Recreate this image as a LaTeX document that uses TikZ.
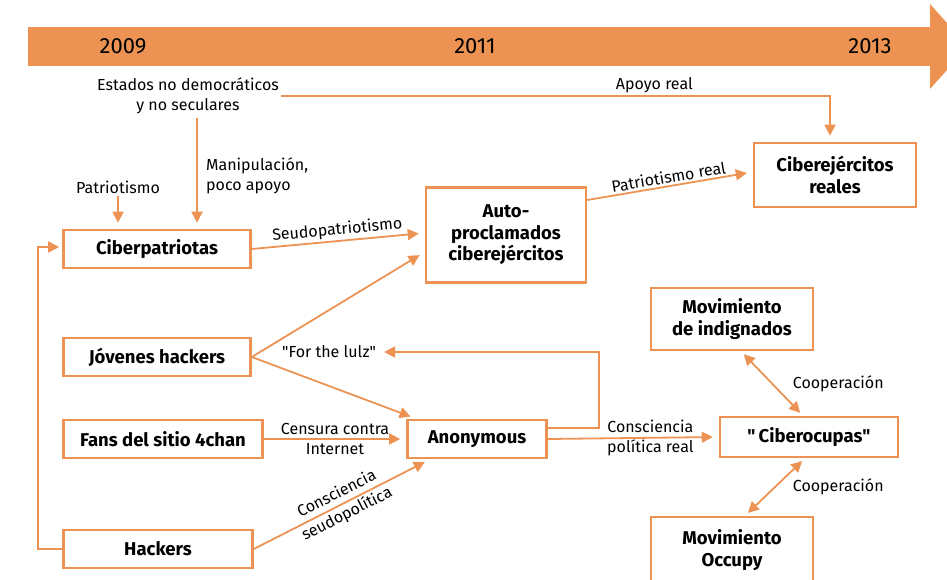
\documentclass[tikz,border=0pt]{standalone}
\usepackage{fontspec}
\setmainfont{Fira Sans}
\usetikzlibrary{positioning, arrows.meta, calc}
\definecolor{naranja}{RGB}{236,147,84}

\begin{document}
\begin{tikzpicture}[x=1pt, y=-1pt,
    box/.style={rectangle, draw=naranja, line width=2.6pt, fill=white, text=black, minimum height=38pt, align=center, font=\fontsize{18.5}{21.5}\selectfont\bfseries, inner sep=3pt},
    lbl/.style={align=center, text=black, font=\fontsize{16}{19.5}\selectfont, inner sep=2pt},
    year/.style={text=black, font=\fontsize{22}{24}\selectfont},
    arrow/.style={-{Triangle[length=11pt, width=11pt]}, naranja, line width=1.8pt, shorten >=6pt},
    coop/.style={{Triangle[length=11pt, width=11pt]}-{Triangle[length=11pt, width=11pt]}, naranja, line width=1.8pt, shorten >=4pt, shorten <=4pt}
]
    \useasboundingbox (0,0) rectangle (947,580);
    \clip (0,0) rectangle (947,580);

    % Timeline
    \fill[naranja] (28,27) rectangle (931,66);
    \fill[naranja] (930,4) -- (968,46.5) -- (930,89) -- cycle;
    \node[year] (y2009) at (123,46) {2009};
    \node[year] (y2011) at (475,46) {2011};
    \node[year] (y2013) at (870,46) {2013};

    % Boxes
    \node[box, minimum width=187pt] (ciberpat) at (157,249) {Ciberpatriotas};
    \node[box, minimum width=160pt, minimum height=95pt] (auto) at (506,235) {Auto-\\proclamados\\ciberejércitos};
    \node[box, minimum width=162pt, minimum height=64pt] (reales) at (835,175) {Ciberejércitos\\reales};
    \node[box, minimum width=187pt] (jovenes) at (157,357) {Jóvenes hackers};
    \node[box, minimum width=199pt] (fans) at (163,439) {Fans del sitio 4chan};
    \node[box, minimum width=189pt] (hackers) at (158,549) {Hackers};
    \node[box, minimum width=139pt] (anon) at (477,439) {Anonymous};
    \node[box, minimum width=178pt, minimum height=40pt] (ocupas) at (809,437) {\textquotedbl\,Ciberocupas\textquotedbl};
    \node[box, minimum width=162pt, minimum height=62pt] (indig) at (732,319) {Movimiento\\de indignados};
    \node[box, minimum width=162pt, minimum height=66pt] (occupy) at (732,550) {Movimiento\\Occupy};

    % Free texts
    \node[lbl] (estados) at (188,96) {Estados no democráticos\\y no seculares};
    \node[lbl] (patrio) at (118,187) {Patriotismo};
    \node[lbl, align=left, anchor=west] (manip) at (204,176) {Manipulación,\\poco apoyo};
    \node[lbl] (lulz) at (329,352) {\textquotedbl For the lulz\textquotedbl};

    % Arrows
    \draw[arrow] (estados.east) -| node[lbl, pos=0.34, above] {Apoyo real} ([xshift=-5pt]reales.north);
    \draw[arrow, shorten <=2pt] ([xshift=9pt]estados.south) -- ([xshift=40pt]ciberpat.north);
    \draw[arrow] (patrio.south) -- ([xshift=-39pt]ciberpat.north);
    \draw[arrow] (ciberpat.east) -- node[lbl, midway, above, sloped] {Seudopatriotismo} ([yshift=2pt]auto.west);
    \draw[arrow] (auto.east |- 0,200) -- node[lbl, midway, above, sloped] {Patriotismo real} ([yshift=3pt]reales.west);
    \draw[arrow] (jovenes.east) -- ([yshift=-17pt]auto.west);
    \draw[arrow] (jovenes.east) -- ([xshift=10pt]anon.north west);
    \draw[arrow] (fans.east) -- node[lbl, midway, align=center] {Censura contra\\[1pt]Internet} (anon.west);
    \draw[arrow] (hackers.east) -- node[lbl, midway, sloped, align=center] {Consciencia\\[3pt]seudopolítica} ([xshift=24pt]anon.south west);
    \draw[arrow] ([yshift=11pt]anon.east) -- ++(51,0) |- (lulz.east);
    \draw[arrow] (anon.east) -- node[lbl, pos=0.6, align=center] {Consciencia\\[1pt]política real} (ocupas.west);
    \draw[arrow, shorten >=3pt] (hackers.west) -- ++(-24,0) |- ([yshift=2pt]ciberpat.west);
    \draw[coop] ([xshift=9pt]indig.south) -- node[lbl, midway, right, xshift=18pt] {Cooperación} ([xshift=-6pt]ocupas.north);
    \draw[coop] ([xshift=-4pt]ocupas.south) -- node[lbl, midway, right, xshift=15pt] {Cooperación} ([xshift=13pt]occupy.north);
\end{tikzpicture}
\end{document}
